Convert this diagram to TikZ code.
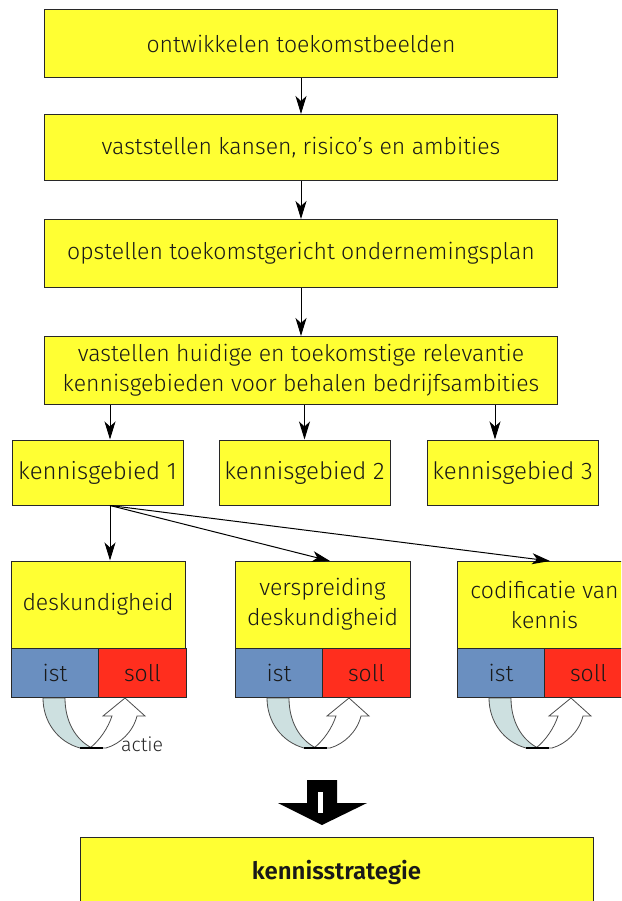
\documentclass[tikz,border=0pt]{standalone}
\usepackage{fontspec}
\setmainfont{Fira Sans Light}[BoldFont={Fira Sans SemiBold}]
\usetikzlibrary{arrows.meta}
\definecolor{yel}{RGB}{255,255,51}
\definecolor{istc}{RGB}{106,143,192}
\definecolor{sollc}{RGB}{255,46,30}
\definecolor{curvec}{RGB}{205,224,224}
\definecolor{edge}{RGB}{40,40,40}
\tikzset{
  ybox/.style={draw=edge,line width=1pt,fill=yel,align=center,font=\fontsize{23}{30}\selectfont,text=black!90},
  istbox/.style={draw=edge,line width=1pt,fill=istc,font=\fontsize{23}{26}\selectfont,text=black!90},
  sollbox/.style={draw=edge,line width=1pt,fill=sollc,font=\fontsize{23}{26}\selectfont,text=black!90},
  conn/.style={line width=1pt,-{Stealth[length=18pt,width=11pt,inset=5pt]}},
  bluecurve/.style={fill=curvec,draw=black!70,line width=0.8pt},
  whitecurve/.style={fill=white,draw=black!70,line width=0.8pt},
}
\begin{document}
\begin{tikzpicture}[x=1pt,y=-1pt]
\useasboundingbox (0,0) rectangle (621,901);
\clip (0,0) rectangle (621,901);
% main chain
\node[ybox,minimum width=513pt,minimum height=68pt] (b1) at (301,43.5) {ontwikkelen toekomstbeelden};
\node[ybox,minimum width=513pt,minimum height=66pt] (b2) at (301,147.5) {vaststellen kansen, risico's en ambities};
\node[ybox,minimum width=513pt,minimum height=68pt] (b3) at (301,253.5) {opstellen toekomstgericht ondernemingsplan};
\node[ybox,minimum width=513pt,minimum height=68pt] (b4) at (301,370.5) {vastellen huidige en toekomstige relevantie\\kennisgebieden voor behalen bedrijfsambities};
\draw[conn] (b1) -- (b2);
\draw[conn] (b2) -- (b3);
\draw[conn] (b3) -- (b4);
% kennisgebieden
\node[ybox,minimum width=171pt,minimum height=65pt,font=\fontsize{24}{28}\selectfont] (k1) at (97.5,472.5) {kennisgebied 1};
\node[ybox,minimum width=171pt,minimum height=65pt,font=\fontsize{24}{28}\selectfont] (k2) at (304.5,472.5) {kennisgebied 2};
\node[ybox,minimum width=171pt,minimum height=65pt,font=\fontsize{24}{28}\selectfont] (k3) at (512.5,472.5) {kennisgebied 3};
\draw[conn] (b4.south -| 110,0) -- (k1.north -| 110,0);
\draw[conn] (b4.south -| k2) -- (k2.north);
\draw[conn] (b4.south -| 495,0) -- (k3.north -| 495,0);
% bottom groups
\node[ybox,minimum width=174pt,minimum height=87pt] (d1) at (98,604.5) {deskundigheid};
\node[ybox,minimum width=175pt,minimum height=87pt] (d2) at (322.5,604.5) {verspreiding\\deskundigheid};
\node[ybox,minimum width=175pt,minimum height=87pt] (d3) at (544.5,604.5) {codificatie van\\kennis};
\foreach \g/\x in {1/11,2/235,3/457}{
  \node[istbox,minimum width=87pt,minimum height=49pt,anchor=north west] (ist\g) at (\x,648) {ist};
  \node[sollbox,minimum width=88pt,minimum height=49pt,anchor=north west] (soll\g) at (\x+87,648) {soll};
  \begin{scope}[shift={(\x-11,0)}]
    \path[bluecurve] (43,698) .. controls (43,722) and (58,742) .. (80,748) -- (92,748) .. controls (76,740) and (65,722) .. (65,698) -- cycle;
    \path[whitecurve] (90,748) .. controls (100,740) and (108,728) .. (112,716) -- (103,716) -- (125,698) -- (145,716) -- (137,716) .. controls (133,732) and (120,744) .. (106,748) -- cycle;
    \draw[line width=1.2pt] (80,748) -- (103,748);
  \end{scope}
}
\coordinate (t2) at (330,561);
\coordinate (t3) at (550,561);
\draw[conn] (k1.south -| 110,0) -- (d1.north -| 110,0);
\draw[conn] (k1.south -| 110,0) -- (t2);
\draw[conn] (k1.south -| 110,0) -- (t3);
\node[font=\fontsize{19.5}{22}\selectfont,text=black!85,anchor=west,inner sep=0pt] (actie) at (121,744) {actie};
% block arrow
\path[fill=black] (307,780) -- (337,780) -- (337,803) -- (367,803) -- (322,825) -- (278,803) -- (307,803) -- cycle;
\path[fill=white] (318,792) rectangle (323,813);
% final box
\node[ybox,minimum width=513pt,minimum height=70pt,font=\fontsize{24}{28}\selectfont\bfseries] (ks) at (336.5,872) {kennisstrategie};
\end{tikzpicture}
\end{document}
